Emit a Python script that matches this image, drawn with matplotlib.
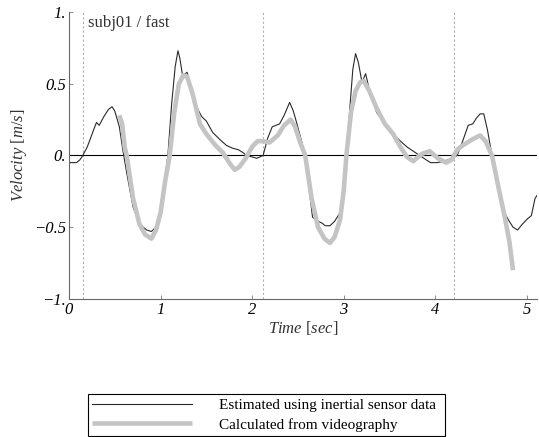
import matplotlib
matplotlib.use("Agg")
import matplotlib.pyplot as plt

plt.rcParams['font.family'] = ['Liberation Serif', 'DejaVu Serif']
plt.rcParams['mathtext.fontset'] = 'custom'
plt.rcParams['mathtext.rm'] = 'Liberation Serif'
plt.rcParams['mathtext.it'] = 'Liberation Serif:italic'

# estimated from inertial sensor (thin dark line)
t_est = [0.0, 0.08, 0.12, 0.15, 0.2, 0.27, 0.3, 0.33, 0.38, 0.43, 0.47, 0.5, 0.55, 0.59,
         0.63, 0.7, 0.76, 0.81, 0.85, 0.9, 0.95, 1.0, 1.05, 1.08, 1.12, 1.16, 1.19, 1.21,
         1.24, 1.27, 1.29, 1.33, 1.4, 1.45, 1.5, 1.57, 1.65, 1.72, 1.79, 1.85, 1.9, 1.94,
         2.0, 2.05, 2.12, 2.17, 2.22, 2.3, 2.35, 2.41, 2.45, 2.49, 2.54, 2.58, 2.62, 2.66,
         2.72, 2.76, 2.8, 2.85, 2.9, 2.96, 3.0, 3.03, 3.07, 3.1, 3.13, 3.16, 3.2, 3.24,
         3.28, 3.36, 3.45, 3.54, 3.62, 3.69, 3.76, 3.83, 3.9, 3.95, 4.02, 4.1, 4.18, 4.24,
         4.3, 4.36, 4.41, 4.45, 4.49, 4.53, 4.57, 4.62, 4.67, 4.74, 4.8, 4.85, 4.9, 4.95,
         5.01, 5.05, 5.09, 5.11]
v_est = [-0.05, -0.05, -0.03, 0.0, 0.06, 0.18, 0.23, 0.21, 0.27, 0.32, 0.34, 0.31, 0.2, 0.03,
         -0.12, -0.36, -0.46, -0.5, -0.52, -0.53, -0.5, -0.38, -0.15, 0.0, 0.35, 0.62, 0.73, 0.68,
         0.56, 0.57, 0.58, 0.47, 0.33, 0.27, 0.24, 0.16, 0.11, 0.07, 0.05, 0.04, 0.02, 0.0,
         -0.01, -0.02, 0.0, 0.12, 0.2, 0.22, 0.28, 0.37, 0.31, 0.22, 0.1, 0.0, -0.22, -0.43,
         -0.46, -0.47, -0.49, -0.49, -0.46, -0.4, -0.25, 0.0, 0.35, 0.6, 0.71, 0.65, 0.51, 0.57,
         0.46, 0.3, 0.22, 0.15, 0.1, 0.06, 0.03, 0.0, -0.03, -0.05, -0.05, -0.04, -0.02, 0.0,
         0.1, 0.21, 0.22, 0.26, 0.29, 0.29, 0.18, 0.0, -0.18, -0.38, -0.45, -0.5, -0.52, -0.48,
         -0.44, -0.42, -0.3, -0.28]

# calculated from videography (thick grey line)
t_vid = [0.55, 0.58, 0.61, 0.63, 0.7, 0.77, 0.83, 0.9, 0.95, 1.0, 1.05, 1.1, 1.15, 1.2,
         1.25, 1.29, 1.35, 1.43, 1.5, 1.6, 1.68, 1.76, 1.81, 1.86, 1.93, 2.0, 2.06, 2.12,
         2.19, 2.28, 2.35, 2.42, 2.47, 2.52, 2.58, 2.65, 2.72, 2.79, 2.85, 2.9, 2.96, 3.0,
         3.03, 3.08, 3.13, 3.18, 3.22, 3.28, 3.36, 3.45, 3.54, 3.62, 3.69, 3.76, 3.85, 3.94,
         4.03, 4.12, 4.18, 4.24, 4.3, 4.4, 4.49, 4.55, 4.62, 4.7, 4.76, 4.81, 4.85]
v_vid = [0.28, 0.22, 0.05, 0.0, -0.3, -0.48, -0.55, -0.58, -0.52, -0.4, -0.18, 0.0, 0.3, 0.5,
         0.56, 0.55, 0.43, 0.22, 0.15, 0.07, 0.02, -0.06, -0.1, -0.08, -0.02, 0.06, 0.1, 0.1,
         0.09, 0.14, 0.21, 0.25, 0.2, 0.1, 0.0, -0.3, -0.5, -0.58, -0.61, -0.57, -0.45, -0.25,
         0.0, 0.3, 0.45, 0.51, 0.52, 0.45, 0.33, 0.22, 0.15, 0.06, -0.01, -0.04, 0.01, 0.03,
         -0.02, -0.05, -0.03, 0.04, 0.07, 0.11, 0.14, 0.1, 0.0, -0.25, -0.43, -0.6, -0.8]

events = [0.15, 2.12, 4.2]
xticks = [0, 1, 2, 3, 4, 5]
yticks = [-1, -0.5, 0, 0.5, 1]
ytick_labels = ['\u22121.', '\u22120.5', '0.', '0.5', '1.']

fig = plt.figure(figsize=(5.39, 4.37), dpi=100)
ax = fig.add_axes([0.128, 0.316, 0.868, 0.6565])

for e in events:
    ax.axvline(e, color='#b0b0b0', linestyle=(0, (2, 2)), linewidth=0.8)
ax.axhline(0, color='black', linewidth=0.8)

l1, = ax.plot(t_est, v_est, color='#2a2a2a', linewidth=0.8)
l2, = ax.plot(t_vid, v_vid, color='#c4c4c4', linewidth=3.3, solid_capstyle='butt')

ax.set_xlim(0, 5.11)
ax.set_ylim(-1, 1)
ax.set_xticks(xticks)
ax.set_xticklabels([str(x) for x in xticks], fontstyle='italic', fontsize=12)
ax.set_yticks(yticks)
ax.set_yticklabels(ytick_labels, fontstyle='italic', fontsize=12)
ax.tick_params(direction='in', length=3, width=0.6, color='#777777', pad=2)

for s in ['top', 'right']:
    ax.spines[s].set_visible(False)
for s in ['left', 'bottom']:
    ax.spines[s].set_color('#666666')
    ax.spines[s].set_linewidth(0.8)

ax.set_xlabel(r'$Time$ [$sec$]', fontsize=12, color='#333333', labelpad=1)
ax.set_ylabel(r'$Velocity$ [$m/s$]', fontsize=12, color='#333333', labelpad=4)
ax.text(0.04, 0.96, 'subj01 / fast', transform=ax.transAxes, fontsize=12,
        color='#333333', va='center', ha='left')

fig.legend([l1, l2], ['Estimated using inertial sensor data', 'Calculated from videography'],
           loc='lower left', bbox_to_anchor=(0.163, 0.002, 0.662, 0.115), mode='expand',
           fontsize=11, handlelength=6.5, handletextpad=1.8, fancybox=False,
           edgecolor='black', framealpha=1, borderaxespad=0, borderpad=0.3,
           labelspacing=0.35)
fig.legends[0].get_frame().set_linewidth(0.8)

fig.savefig('out.png', dpi=100)
